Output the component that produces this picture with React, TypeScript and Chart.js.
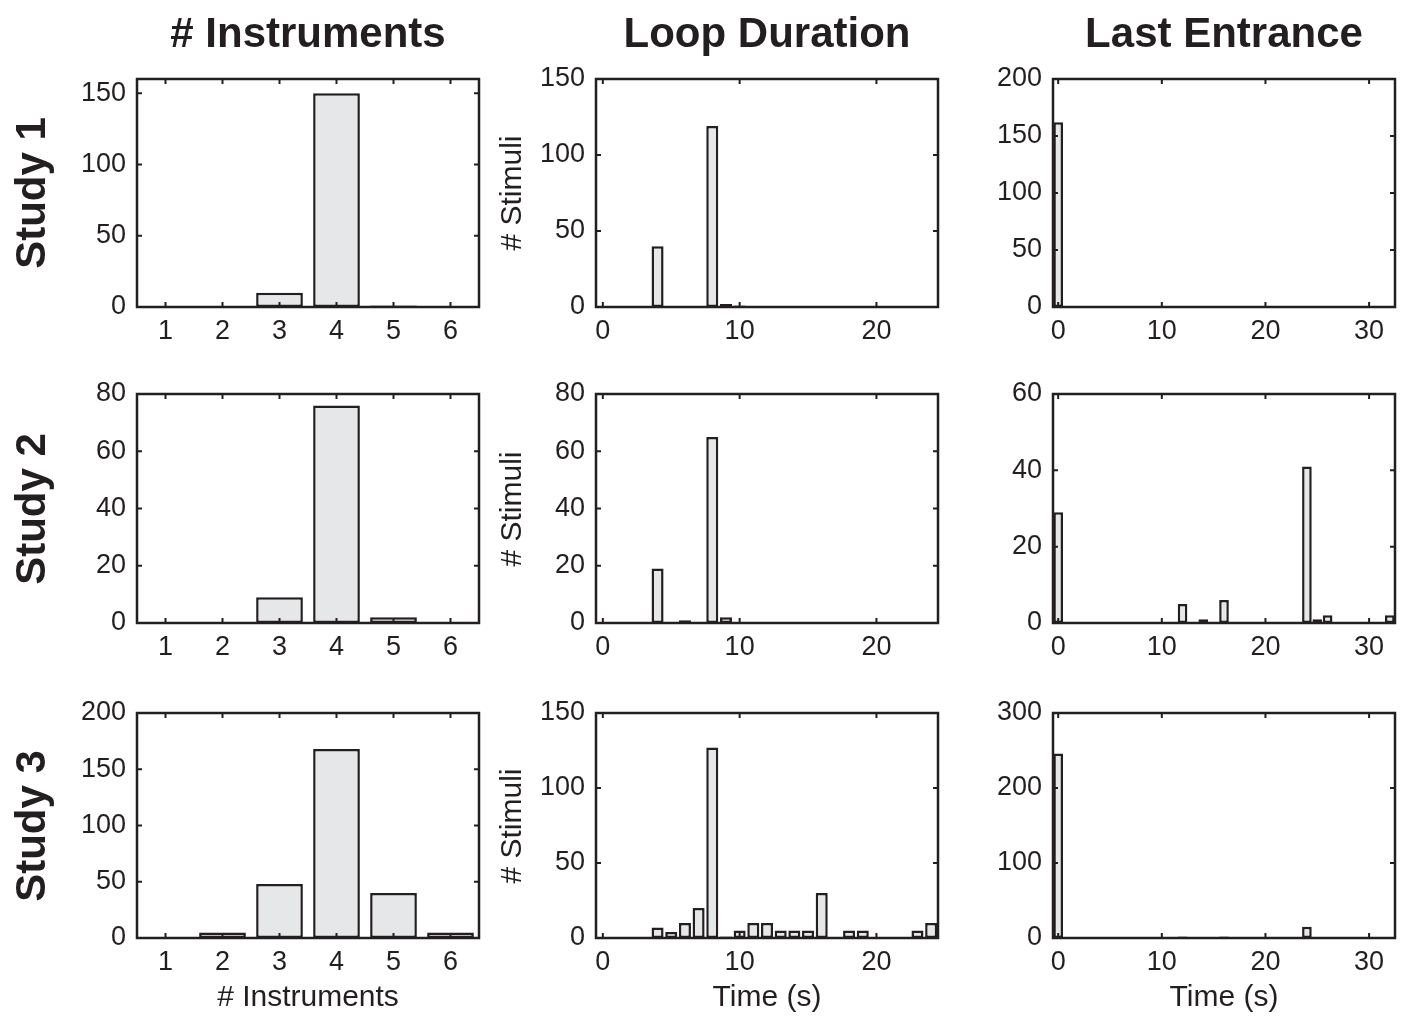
import React, { useEffect, useRef } from 'react';
import { Chart, registerables } from 'chart.js';

Chart.register(...registerables);

// ---------- data ----------
const instrumentBins = [1, 2, 3, 4, 5, 6];
const loopBins = [0, 1, 2, 3, 4, 5, 6, 7, 8, 9, 10, 11, 12, 13, 14, 15, 16, 17, 18, 19, 20, 21, 22, 23, 24];
const lastBins = [0, 1, 2, 3, 4, 5, 6, 7, 8, 9, 10, 11, 12, 13, 14, 15, 16, 17, 18, 19, 20, 21, 22, 23, 24, 25, 26, 27, 28, 29, 30, 31, 32];

const instrumentsStudy1 = [0, 0, 10, 150, 1, 0];
const instrumentsStudy2 = [0, 0, 9, 76, 2, 0];
const instrumentsStudy3 = [0, 5, 48, 168, 40, 5];

const loopStudy1 = [0, 0, 0, 0, 40, 0, 0, 0, 119, 2, 1, 0, 0, 0, 0, 0, 0, 0, 0, 0, 0, 0, 0, 0, 0];
const loopStudy2 = [0, 0, 0, 0, 19, 0, 1, 0, 65, 2, 0, 0, 0, 0, 0, 0, 0, 0, 0, 0, 0, 0, 0, 0, 0];
const loopStudy3 = [0, 0, 0, 0, 7, 4, 10, 20, 127, 1, 5, 10, 10, 5, 5, 5, 30, 0, 5, 5, 0, 0, 0, 5, 10];

const lastStudy1 = [162, 0, 0, 0, 0, 0, 0, 0, 0, 0, 0, 0, 0, 0, 0, 0, 0, 0, 0, 0, 0, 0, 0, 0, 0, 0, 0, 0, 0, 0, 0, 0, 0];
const lastStudy2 = [29, 0, 0, 0, 0, 0, 0, 0, 0, 0, 0, 0, 5, 0, 1, 0, 6, 0, 0, 0, 0, 0, 0, 0, 41, 1, 2, 0, 0, 0, 0, 0, 2];
const lastStudy3 = [246, 0, 0, 0, 0, 0, 0, 0, 0, 0, 0, 0, 2, 0, 0, 0, 2, 0, 0, 0, 0, 0, 0, 0, 15, 0, 1, 0, 0, 0, 0, 0, 0];

const instrumentXTicks = [1, 2, 3, 4, 5, 6];
const loopXTicks = [0, 10, 20];
const lastXTicks = [0, 10, 20, 30];

const yTicks50to150 = [0, 50, 100, 150];
const yTicks50to200 = [0, 50, 100, 150, 200];
const yTicks20to80 = [0, 20, 40, 60, 80];
const yTicks20to60 = [0, 20, 40, 60];
const yTicks100to300 = [0, 100, 200, 300];

const columnTitles = ['# Instruments', 'Loop Duration', 'Last Entrance'];
const rowTitles = ['Study 1', 'Study 2', 'Study 3'];
const xAxisTitles = ['# Instruments', 'Time (s)', 'Time (s)'];
const yAxisTitle = '# Stimuli';

// ---------- style / layout ----------
const INK = '#231f20';
const FILL = '#e6e7e8';
const FONT = "'Liberation Sans', Arial, Helvetica, sans-serif";
const TICK_FONT = 27;
const LABEL_FONT = 30;
const TITLE_FONT = 42;
const PAD_L = 90;
const PAD_T = 40;
const PAD_R = 20;
const PAD_B = 50;
const TICK_LEN = 5;

const colX = [
  { l: 137, r: 479 },
  { l: 596, r: 938 },
  { l: 1053, r: 1395 },
];
const rowY = [
  { t: 79, b: 307 },
  { t: 394, b: 623 },
  { t: 713, b: 938 },
];

type PanelProps = {
  col: number;
  row: number;
  bins: number[];
  values: number[];
  xMin: number;
  xMax: number;
  xTicks: number[];
  yMax: number;
  yTicks: number[];
  barPct: number;
};

const boxPlugin = {
  id: 'matlabBox',
  afterDraw(chart: any) {
    const { ctx, chartArea: a, scales } = chart;
    const x = scales.x;
    const y = scales.y;
    ctx.save();
    ctx.strokeStyle = INK;
    ctx.lineWidth = 2;
    ctx.beginPath();
    x.ticks.forEach((t: any) => {
      const px = x.getPixelForValue(t.value);
      ctx.moveTo(px, a.bottom);
      ctx.lineTo(px, a.bottom - TICK_LEN);
      ctx.moveTo(px, a.top);
      ctx.lineTo(px, a.top + TICK_LEN);
    });
    y.ticks.forEach((t: any) => {
      const py = y.getPixelForValue(t.value);
      ctx.moveTo(a.left, py);
      ctx.lineTo(a.left + TICK_LEN, py);
      ctx.moveTo(a.right, py);
      ctx.lineTo(a.right - TICK_LEN, py);
    });
    ctx.stroke();
    ctx.lineWidth = 2.5;
    ctx.strokeRect(a.left, a.top, a.right - a.left, a.bottom - a.top);
    ctx.restore();
  },
};

function Panel(p: PanelProps) {
  const ref = useRef<HTMLCanvasElement | null>(null);
  const c = colX[p.col];
  const r = rowY[p.row];
  const w = c.r - c.l + PAD_L + PAD_R;
  const h = r.b - r.t + PAD_T + PAD_B;

  useEffect(() => {
    if (!ref.current) return;
    const chart = new Chart(ref.current, {
      type: 'bar',
      data: {
        datasets: [
          {
            data: p.bins.map((b, i) => ({ x: b, y: p.values[i] })),
            backgroundColor: FILL,
            borderColor: INK,
            borderWidth: 2.5,
            borderSkipped: false,
            barPercentage: p.barPct,
            categoryPercentage: 1,
          } as any,
        ],
      },
      options: {
        animation: false,
        responsive: false,
        maintainAspectRatio: false,
        layout: { padding: { top: PAD_T, right: PAD_R, left: 0, bottom: 0 } },
        plugins: { legend: { display: false }, tooltip: { enabled: false } },
        scales: {
          x: {
            type: 'linear',
            min: p.xMin,
            max: p.xMax,
            offset: false,
            grid: { display: false, drawTicks: false },
            border: { display: false },
            ticks: {
              autoSkip: false,
              maxRotation: 0,
              padding: 8,
              color: INK,
              font: { family: FONT, size: TICK_FONT },
            },
            afterBuildTicks: (s: any) => {
              s.ticks = p.xTicks.map((v) => ({ value: v }));
            },
            afterFit: (s: any) => {
              s.height = PAD_B;
            },
          },
          y: {
            type: 'linear',
            min: 0,
            max: p.yMax,
            grid: { display: false, drawTicks: false },
            border: { display: false },
            ticks: {
              autoSkip: false,
              padding: 11,
              color: INK,
              font: { family: FONT, size: TICK_FONT },
            },
            afterBuildTicks: (s: any) => {
              s.ticks = p.yTicks.map((v) => ({ value: v }));
            },
            afterFit: (s: any) => {
              s.width = PAD_L;
            },
          },
        },
      } as any,
      plugins: [boxPlugin],
    });
    return () => chart.destroy();
  }, []);

  return (
    <canvas
      ref={ref}
      width={w}
      height={h}
      style={{ position: 'absolute', left: c.l - PAD_L, top: r.t - PAD_T, width: w, height: h }}
    />
  );
}

const textBase: React.CSSProperties = {
  position: 'absolute',
  fontFamily: FONT,
  color: INK,
  whiteSpace: 'nowrap',
  lineHeight: 1,
};

export default function App() {
  const instVals = [instrumentsStudy1, instrumentsStudy2, instrumentsStudy3];
  const loopVals = [loopStudy1, loopStudy2, loopStudy3];
  const lastVals = [lastStudy1, lastStudy2, lastStudy3];
  const instY = [
    { max: 160, ticks: yTicks50to150 },
    { max: 80, ticks: yTicks20to80 },
    { max: 200, ticks: yTicks50to200 },
  ];
  const loopY = [
    { max: 150, ticks: yTicks50to150 },
    { max: 80, ticks: yTicks20to80 },
    { max: 150, ticks: yTicks50to150 },
  ];
  const lastY = [
    { max: 200, ticks: yTicks50to200 },
    { max: 60, ticks: yTicks20to60 },
    { max: 300, ticks: yTicks100to300 },
  ];

  return (
    <div style={{ position: 'absolute', left: 0, top: 0, width: 1404, height: 1024, overflow: 'hidden', background: '#fff' }}>
      {[0, 1, 2].map((row) => (
        <React.Fragment key={row}>
          <Panel col={0} row={row} bins={instrumentBins} values={instVals[row]} xMin={0.5} xMax={6.5}
            xTicks={instrumentXTicks} yMax={instY[row].max} yTicks={instY[row].ticks} barPct={0.82} />
          <Panel col={1} row={row} bins={loopBins} values={loopVals[row]} xMin={-0.5} xMax={24.5}
            xTicks={loopXTicks} yMax={loopY[row].max} yTicks={loopY[row].ticks} barPct={0.88} />
          <Panel col={2} row={row} bins={lastBins} values={lastVals[row]} xMin={-0.5} xMax={32.5}
            xTicks={lastXTicks} yMax={lastY[row].max} yTicks={lastY[row].ticks} barPct={0.93} />
        </React.Fragment>
      ))}
      {columnTitles.map((t, i) => (
        <div key={'ct' + i} style={{ ...textBase, fontSize: TITLE_FONT, fontWeight: 'bold',
          left: (colX[i].l + colX[i].r) / 2, top: 33, transform: 'translate(-50%, -50%)' }}>{t}</div>
      ))}
      {rowTitles.map((t, i) => (
        <div key={'rt' + i} style={{ ...textBase, fontSize: TITLE_FONT, fontWeight: 'bold',
          left: 31, top: (rowY[i].t + rowY[i].b) / 2, transform: 'translate(-50%, -50%) rotate(-90deg)' }}>{t}</div>
      ))}
      {rowY.map((r, i) => (
        <div key={'yl' + i} style={{ ...textBase, fontSize: LABEL_FONT,
          left: 511, top: (r.t + r.b) / 2, transform: 'translate(-50%, -50%) rotate(-90deg)' }}>{yAxisTitle}</div>
      ))}
      {xAxisTitles.map((t, i) => (
        <div key={'xl' + i} style={{ ...textBase, fontSize: LABEL_FONT,
          left: (colX[i].l + colX[i].r) / 2, top: 996, transform: 'translate(-50%, -50%)' }}>{t}</div>
      ))}
    </div>
  );
}
